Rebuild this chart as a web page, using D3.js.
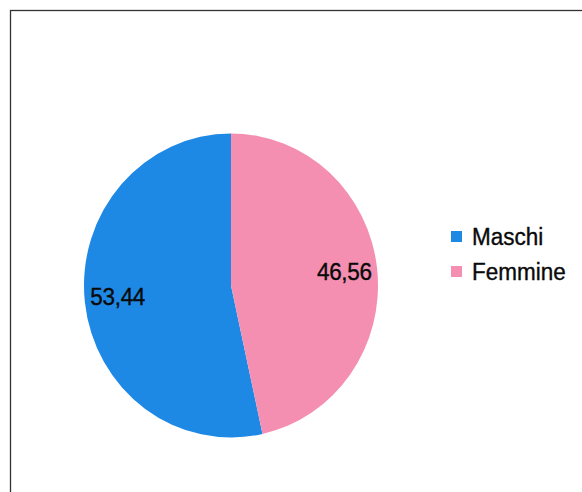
<!DOCTYPE html>
<html><head><meta charset="utf-8">
<script src="https://cdn.jsdelivr.net/npm/d3@7"></script>
<style>html,body{margin:0;padding:0;background:#fff;overflow:hidden}</style>
</head><body>
<script>
const categories = ["Maschi", "Femmine"];
const values = [53.44, 46.56];
const labels = ["53,44", "46,56"];
const colors = ["#1E88E5", "#F48FB1"];

const W = 582, H = 492;
const svg = d3.select("body").append("svg").attr("width", W).attr("height", H);

svg.append("rect").attr("x", 10.5).attr("y", 10.5).attr("width", W + 20).attr("height", H + 20)
  .attr("fill", "#fff").attr("stroke", "#333").attr("stroke-width", 1.3);

const cx = 231, cy = 285.5, R = 147, sy = 1.034;
const data = categories.map((c, i) => ({ cat: c, value: values[i], label: labels[i], color: colors[i] }));
// Maschi drawn counter-clockwise from 12 o'clock
const pie = d3.pie().value(d => d.value).sort(null).startAngle(0).endAngle(-2 * Math.PI);
const arc = d3.arc().innerRadius(0).outerRadius(R);
const labelArc = d3.arc().innerRadius(114).outerRadius(114);

const g = svg.append("g").attr("transform", `translate(${cx},${cy}) scale(1,${sy})`);
const arcs = pie(data);
g.selectAll("path").data(arcs).join("path").attr("d", arc).attr("fill", d => d.data.color);

const tg = svg.append("g").attr("transform", `translate(${cx},${cy})`);
tg.selectAll("text").data(arcs).join("text")
  .attr("transform", d => { const [x, y] = labelArc.centroid(d); return `translate(${x},${y * sy - 1.5}) scale(1,1.05)`; })
  .attr("text-anchor", "middle").attr("dy", "0.36em")
  .attr("font-family", "Liberation Sans, Arial, sans-serif").attr("font-size", 22.5)
  .attr("letter-spacing", -0.3)
  .attr("fill", "#0a0a0a").attr("stroke", "#0a0a0a").attr("stroke-width", 0.35)
  .text(d => d.data.label);

const legend = svg.append("g").attr("transform", "translate(451,231)");
const items = legend.selectAll("g").data(data).join("g").attr("transform", (d, i) => `translate(0,${i * 35})`);
items.append("rect").attr("width", 11).attr("height", 11).attr("fill", d => d.color);
items.append("text").attr("transform", "translate(21,5.5) scale(1,1.05)").attr("dy", "0.36em")
  .attr("font-family", "Liberation Sans, Arial, sans-serif").attr("font-size", 22.5)
  .attr("fill", "#0a0a0a").attr("stroke", "#0a0a0a").attr("stroke-width", 0.35)
  .text(d => d.cat);
</script>
</body></html>
